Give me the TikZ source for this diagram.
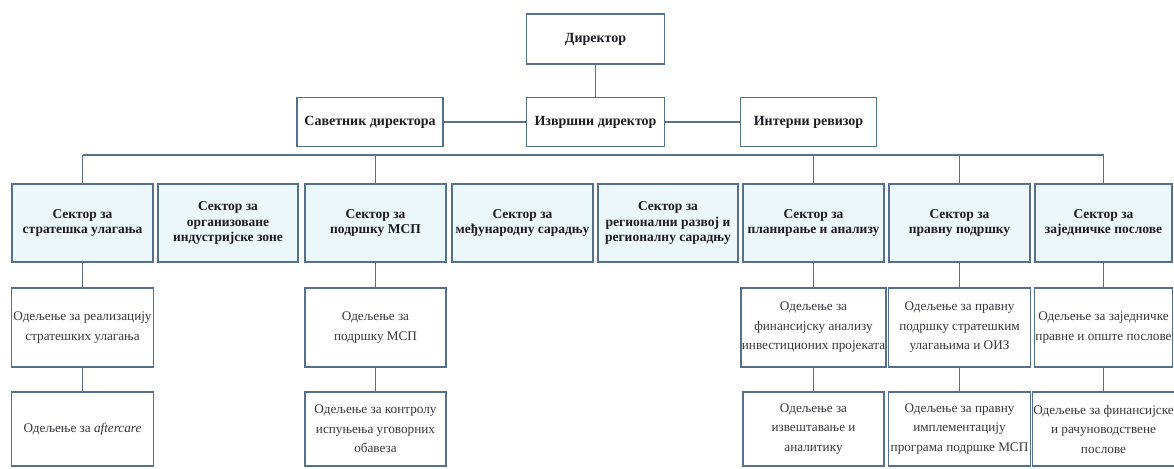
\documentclass[tikz,border=0pt]{standalone}
\usepackage{fontspec}
\setmainfont{Liberation Serif}
\definecolor{bordercol}{RGB}{84,112,140}
\definecolor{linecol}{RGB}{92,112,132}
\definecolor{sectfill}{RGB}{236,247,250}
\definecolor{txtcol}{RGB}{28,28,36}
\definecolor{depttxt}{RGB}{55,55,60}
\tikzset{
  basebox/.style={draw=bordercol, line width=1.5pt, inner sep=1pt, align=center, anchor=center},
  topbox/.style={basebox, fill=white, text=txtcol, font=\bfseries\fontsize{14}{16}\selectfont},
  sectbox/.style={basebox, fill=sectfill, text=txtcol, minimum width=141pt, minimum height=78pt, font=\bfseries\fontsize{13.5}{15.5}\selectfont},
  deptbox/.style={basebox, fill=white, text=depttxt, minimum width=141pt, font=\fontsize{13.2}{19.5}\selectfont},
  deptA/.style={deptbox, minimum height=79pt},
  deptB/.style={deptbox, minimum height=74pt},
  conn/.style={draw=linecol, line width=1.5pt}
}
\begin{document}
\begin{tikzpicture}[x=1pt,y=-1pt]
\useasboundingbox[fill=white] (0,0) rectangle (1174,468);
% top level
\node[topbox, minimum width=138pt, minimum height=50pt] (dir) at (595.5,39) {Директор};
\node[topbox, minimum width=138pt, minimum height=49pt] (izv) at (595.5,122) {Извршни директор};
\node[topbox, minimum width=146pt, minimum height=49pt] (sav) at (370,122) {Саветник директора};
\node[topbox, minimum width=136pt, minimum height=49pt] (int) at (808.5,122) {Интерни ревизор};
\draw[conn] (dir) -- (izv);
\draw[conn] (sav) -- (izv);
\draw[conn] (izv) -- (int);
% sectors
\node[sectbox] (s1) at (82.5,223) {Сектор за\\стратешка улагања};
\node[sectbox, minimum width=140pt] (s2) at (228,223) {Сектор за\\организоване\\индустријске зоне};
\node[sectbox] (s3) at (375.5,223) {Сектор за\\подршку МСП};
\node[sectbox] (s4) at (522.5,223) {Сектор за\\међународну сарадњу};
\node[sectbox, minimum width=140pt] (s5) at (668,223) {Сектор за\\регионални развој и\\регионалну сарадњу};
\node[sectbox] (s6) at (813.5,223) {Сектор за\\планирање и анализу};
\node[sectbox] (s7) at (959.5,223) {Сектор за\\правну подршку};
\node[sectbox, minimum width=137pt] (s8) at (1103.5,223) {Сектор за\\заједничке послове};
% bus
\coordinate (busL) at (82.5,155);
\coordinate (busR) at (1103.5,155);
\draw[conn] (busL) -- (busR);
\foreach \s in {s1,s3,s6,s7,s8}{
  \draw[conn] (\s.north) -- (\s.north |- busL);
}
% departments
\node[deptA, minimum width=142pt] (d1a) at (82.5,327.5) {Одељење за реализацију\\стратешких улагања};
\node[deptB, minimum width=142pt] (d1b) at (82.5,429) {Одељење за \textit{aftercare}};
\node[deptA] (d3a) at (375.5,327.5) {Одељење за\\подршку МСП};
\node[deptB] (d3b) at (375.5,429) {Одељење за контролу\\испуњења уговорних\\обавеза};
\node[deptA] (d6a) at (813.5,327.5) {Одељење за\\финансијску анализу\\инвестиционих пројеката};
\node[deptB] (d6b) at (813.5,429) {Одељење за\\извештавање и\\аналитику};
\node[deptA, minimum width=142pt] (d7a) at (959.5,327.5) {Одељење за правну\\подршку стратешким\\улагањима и ОИЗ};
\node[deptB, minimum width=142pt] (d7b) at (959.5,429) {Одељење за правну\\имплементацију\\програма подршке МСП};
\node[deptA, minimum width=138pt] (d8a) at (1103.5,327.5) {Одељење за заједничке\\правне и опште послове};
\node[deptB, minimum width=138pt] (d8b) at (1103.5,429) {Одељење за финансијске\\и рачуноводствене\\послове};
\foreach \s/\a/\b in {s1/d1a/d1b,s3/d3a/d3b,s6/d6a/d6b,s7/d7a/d7b,s8/d8a/d8b}{
  \draw[conn] (\s.south) -- (\a.north);
  \draw[conn] (\a.south) -- (\b.north);
}
\end{tikzpicture}
\end{document}
